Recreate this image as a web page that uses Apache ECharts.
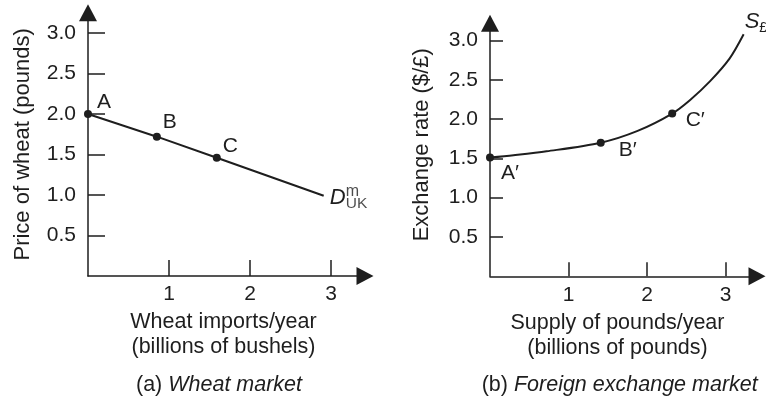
<!DOCTYPE html>
<html><head><meta charset="utf-8">
<script src="https://cdn.jsdelivr.net/npm/echarts@6/dist/echarts.min.js"></script>
<style>html,body{margin:0;padding:0;background:#fff}#c{width:766px;height:401px}</style>
</head><body><div id="c"></div>
<script>
// ---- data ----
const wheatImports = [0, 0.85, 1.59, 2.91];
const wheatPrice = [2.0, 1.72, 1.46, 0.99];
const wheatPointNames = ['A', 'B', 'C', null];
const poundsSupplied = [0, 0.30, 0.72, 1.41, 1.88, 2.32, 2.545, 2.80, 3.05, 3.23];
const exchangeRate = [1.51, 1.54, 1.59, 1.70, 1.85, 2.07, 2.24, 2.48, 2.77, 3.08];
const fxPointNames = ['A′', null, null, 'B′', null, 'C′', null, null, null, null];
const xTickValues = [1, 2, 3];
const yTickValues = [0.5, 1.0, 1.5, 2.0, 2.5, 3.0];

// ---- styling ----
const INK = '#1e1e1e';
const FONT = '"Liberation Sans", Arial, Helvetica, sans-serif';
const wheatLabelOffsets = [[16, -12], [13, -14], [13.5, -12]];
const fxLabelOffsets = {0: [20, 16], 3: [27, 8], 5: [23, 7]};

function pointLabel(text, offset) {
  return {show: true, position: 'inside', formatter: text, offset: offset,
    color: INK, fontSize: 21, fontFamily: FONT, align: 'center', verticalAlign: 'middle'};
}

const wheatData = wheatImports.map((x, i) => {
  const name = wheatPointNames[i];
  if (name) {
    return {value: [x, wheatPrice[i]], symbol: 'circle', symbolSize: 8, label: pointLabel(name, wheatLabelOffsets[i])};
  }
  if (i === wheatImports.length - 1) {
    return {value: [x, wheatPrice[i]], symbol: 'circle', symbolSize: 0,
      itemStyle: {color: 'rgba(0,0,0,0)'},
      label: {show: true, position: 'inside', align: 'left', verticalAlign: 'middle', offset: [6, 2.5],
        formatter: '{d|D}', rich: {d: {fontSize: 22, fontStyle: 'italic', color: INK, fontFamily: FONT}}}};
  }
  return {value: [x, wheatPrice[i]], symbolSize: 0};
});

const fxData = poundsSupplied.map((x, i) => {
  const name = fxPointNames[i];
  if (name) {
    return {value: [x, exchangeRate[i]], symbol: 'circle', symbolSize: 8, label: pointLabel(name, fxLabelOffsets[i])};
  }
  if (i === poundsSupplied.length - 1) {
    return {value: [x, exchangeRate[i]], symbol: 'circle', symbolSize: 0,
      itemStyle: {color: 'rgba(0,0,0,0)'},
      label: {show: true, position: 'inside', align: 'left', verticalAlign: 'middle', offset: [1, -12],
        formatter: '{s|S}{p|£}', rich: {
          s: {fontSize: 22, fontStyle: 'italic', color: INK, fontFamily: FONT},
          p: {fontSize: 14, color: INK, fontFamily: FONT, padding: [11, 0, 0, 0]}}}};
  }
  return {value: [x, exchangeRate[i]], symbol: 'circle', symbolSize: 0, itemStyle: {color: 'rgba(0,0,0,0)'}};
});

const lastW = wheatImports.length - 1;

function xAxisCfg(grid, max, name, tickLen, pad) {
  return {
    type: 'value', gridIndex: grid, min: 0, max: max,
    axisLine: {show: true, onZero: false, symbol: ['none', 'triangle'], symbolSize: [18, 17],
      lineStyle: {color: INK, width: 1.5}},
    axisTick: {show: true, inside: true, length: tickLen, customValues: xTickValues, lineStyle: {color: INK, width: 1.5}},
    axisLabel: {customValues: xTickValues, margin: 8, fontSize: 21, color: INK, fontFamily: FONT},
    splitLine: {show: false},
    name: name, nameLocation: 'middle', nameGap: 32,
    nameTextStyle: {fontSize: 21.5, lineHeight: 25, color: INK, fontFamily: FONT, padding: pad}
  };
}
function yAxisCfg(grid, max, name, tickLen, gap, pad) {
  return {
    type: 'value', gridIndex: grid, min: 0, max: max,
    axisLine: {show: true, onZero: false, symbol: ['none', 'triangle'], symbolSize: [18, 17],
      lineStyle: {color: INK, width: 1.5}},
    axisTick: {show: true, inside: true, length: tickLen, customValues: yTickValues, lineStyle: {color: INK, width: 1.5}},
    axisLabel: {customValues: yTickValues, margin: 12, fontSize: 21, color: INK, fontFamily: FONT,
      formatter: v => Number(v).toFixed(1)},
    splitLine: {show: false},
    name: name, nameLocation: 'middle', nameRotate: 90, nameGap: gap,
    nameTextStyle: {fontSize: 22, color: INK, fontFamily: FONT, padding: pad}
  };
}

const chart = echarts.init(document.getElementById('c'), null, {renderer: 'canvas'});
chart.setOption({
  animation: false,
  backgroundColor: '#fff',
  grid: [
    {left: 88, right: 401, top: 12.75, bottom: 125},
    {left: 490, right: 9, top: 23.2, bottom: 124.7}
  ],
  xAxis: [
    xAxisCfg(0, 3.42, 'Wheat imports/year\n(billions of bushels)', 16, [0, 6, 0, 0]),
    xAxisCfg(1, 3.4, 'Supply of pounds/year\n(billions of pounds)', 14, [0, 12, 0, 0])
  ],
  yAxis: [
    yAxisCfg(0, 3.25, 'Price of wheat (pounds)', 17, 54, [0, 0, 0, 0]),
    yAxisCfg(1, 3.22, 'Exchange rate ($/£)', 13, 57, [0, 0, 0, 10])
  ],
  series: [
    {
      type: 'line', xAxisIndex: 0, yAxisIndex: 0, data: wheatData, silent: true,
      showAllSymbol: true, lineStyle: {color: INK, width: 2}, itemStyle: {color: INK},
      emphasis: {disabled: true}
    },
    {
      type: 'scatter', xAxisIndex: 0, yAxisIndex: 0, silent: true, symbolSize: 0,
      data: [[wheatImports[lastW], wheatPrice[lastW]]],
      itemStyle: {color: 'rgba(0,0,0,0)'},
      label: {show: true, position: 'inside', align: 'left', verticalAlign: 'middle', offset: [22, 2.5],
        formatter: '{m|m}\n{u|UK}', rich: {
          m: {fontSize: 16, lineHeight: 11, color: INK, fontFamily: FONT},
          u: {fontSize: 15.5, lineHeight: 13, color: INK, fontFamily: FONT}}},
      emphasis: {disabled: true}
    },
    {
      type: 'line', xAxisIndex: 1, yAxisIndex: 1, data: fxData, silent: true, smooth: 0.3,
      showAllSymbol: true, lineStyle: {color: INK, width: 2}, itemStyle: {color: INK},
      emphasis: {disabled: true}
    }
  ],
  graphic: [
    {type: 'text', x: 219, y: 385, silent: true, style: {
      text: '(a) {i|Wheat market}', fontSize: 21.5, fontFamily: FONT, fill: INK,
      textAlign: 'center', textVerticalAlign: 'middle',
      rich: {i: {fontSize: 21.5, fontStyle: 'italic', fontFamily: FONT, fill: INK}}}},
    {type: 'text', x: 619.7, y: 385, silent: true, style: {
      text: '(b) {i|Foreign exchange market}', fontSize: 21.5, fontFamily: FONT, fill: INK,
      textAlign: 'center', textVerticalAlign: 'middle',
      rich: {i: {fontSize: 21.5, fontStyle: 'italic', fontFamily: FONT, fill: INK}}}}
  ]
});
</script></body></html>
